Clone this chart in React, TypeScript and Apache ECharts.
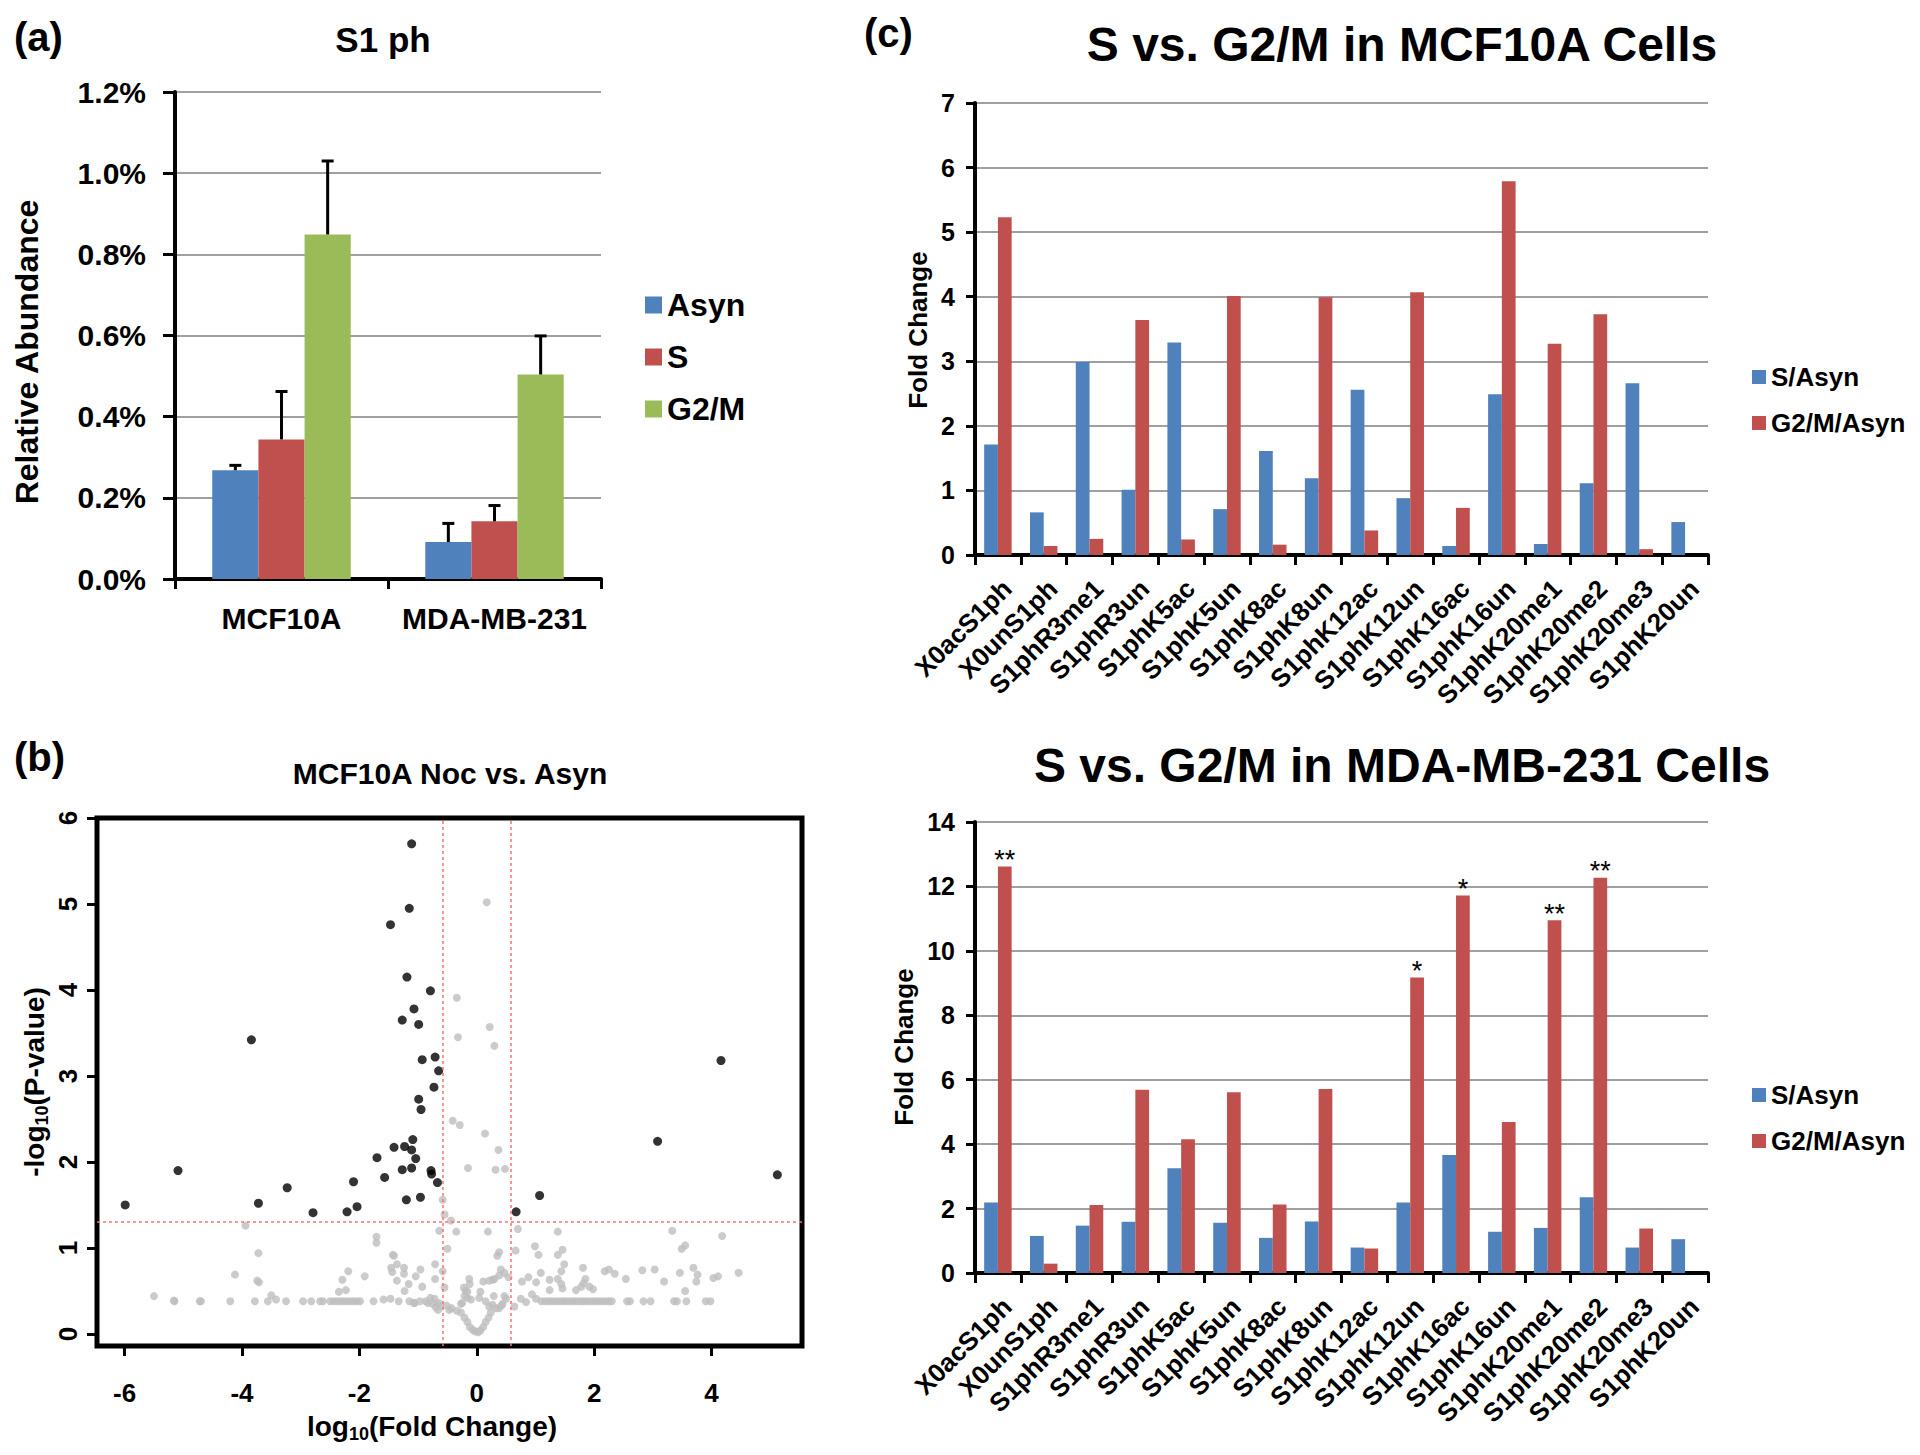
import React, { useEffect, useRef } from 'react';
import * as echarts from 'echarts';

const FONT = '"Liberation Sans", Arial, Helvetica, sans-serif';

// ---------- Panel (a) ----------
const cellLines = ['MCF10A', 'MDA-MB-231'];
const phaseNames = ['Asyn', 'S', 'G2/M'];
const asynVals = [0.268, 0.091];
const asynErrTop = [0.28, 0.137];
const sVals = [0.344, 0.142];
const sErrTop = [0.462, 0.181];
const g2mVals = [0.849, 0.504];
const g2mErrTop = [1.03, 0.599];
const yTicksA = [0, 0.2, 0.4, 0.6, 0.8, 1.0, 1.2];

// ---------- Panel (b) ----------
const blackPts = [
  [-1.11, 5.7], [-1.15, 4.95], [-1.47, 4.76], [-1.19, 4.15], [-0.79, 3.99], [-1.07, 3.78], [-1.27, 3.65],
  [-0.99, 3.6], [-3.84, 3.42], [-0.93, 3.19], [-0.71, 3.22], [-0.65, 3.06], [-0.73, 2.87], [-0.99, 2.73],
  [-0.95, 2.61], [4.16, 3.18], [3.08, 2.24], [-1.09, 2.26], [-1.41, 2.17], [-1.23, 2.18], [-1.11, 2.14],
  [-1.04, 2.04], [-1.7, 2.05], [-5.09, 1.9], [-1.27, 1.91], [-1.11, 1.93], [-0.78, 1.9], [-0.77, 1.86],
  [-1.57, 1.82], [-2.1, 1.77], [-0.67, 1.76], [-3.23, 1.7], [5.12, 1.85], [1.07, 1.61], [-0.96, 1.59],
  [-3.72, 1.52], [-1.2, 1.56], [-5.99, 1.5], [-2.04, 1.48], [-2.21, 1.42], [-2.79, 1.41], [0.67, 1.42],
];
const grayPts = [
  [0.17, 5.02], [-0.34, 3.91], [0.22, 3.57], [-0.32, 3.45], [0.3, 3.35], [-0.41, 2.48], [-0.29, 2.43],
  [0.14, 2.33], [0.37, 2.14], [-0.15, 1.93], [0.32, 1.91], [0.48, 1.92], [-0.58, 1.56], [-0.55, 1.39],
  [-0.44, 1.32],
  [-3.94, 1.26], [-0.64, 1.2], [-0.35, 1.19], [0.19, 1.19], [0.7, 1.22], [1.38, 1.19], [3.33, 1.2], [4.18, 1.14],
  [-1.71, 1.13], [-1.71, 1.06], [-0.5, 0.99], [0.99, 1.02], [1.05, 0.92], [0.66, 0.97], [0.38, 0.95],
  [0.35, 0.91], [1.38, 0.92], [1.46, 0.98], [3.49, 0.99], [3.55, 1.03],
  [-3.72, 0.94], [-1.41, 0.91], [-4.12, 0.69], [-3.71, 0.6], [-2.19, 0.73], [-2.29, 0.63], [-1.91, 0.67],
  [-1.36, 0.81], [-1.44, 0.72], [-1.24, 0.7], [-0.96, 0.75], [-1.04, 0.67], [-1.36, 0.62], [-1.16, 0.58],
  [-1.23, 0.5], [-0.93, 0.55], [-0.71, 0.81], [-0.71, 0.64], [-0.58, 0.73], [-0.55, 0.54], [-2.35, 0.49],
  [-2.23, 0.51], [-5.5, 0.44], [-5.16, 0.39],
  [1.49, 0.81], [1.44, 0.73], [1.09, 0.71], [1.81, 0.77], [2.18, 0.73], [2.25, 0.75], [2.35, 0.7],
  [2.54, 0.64], [2.82, 0.74], [3.03, 0.75], [3.19, 0.61], [3.46, 0.71], [3.69, 0.77], [3.76, 0.69],
  [3.74, 0.61], [4.03, 0.65], [4.11, 0.67], [4.46, 0.71],
  [0.41, 0.75], [0.47, 0.71], [0.38, 0.68], [0.3, 0.64], [0.21, 0.62], [0.54, 0.66], [0.77, 0.61],
  [0.88, 0.66], [1.01, 0.6], [1.24, 0.63], [1.38, 0.64], [1.44, 0.58], [1.46, 0.53], [1.24, 0.51],
  [1.69, 0.51], [1.78, 0.55], [1.85, 0.64], [1.82, 0.59], [1.92, 0.55], [1.98, 0.52], [3.55, 0.5],
  [-0.13, 0.64], [0.11, 0.61], [0.27, 0.63], [-0.22, 0.54], [-0.19, 0.5], [-0.16, 0.42], [-0.1, 0.4],
  [0.04, 0.42], [-0.27, 0.35], [0.21, 0.32], [0.27, 0.34], [0.47, 0.44], [0.5, 0.41], [0.38, 0.3],
  [0.44, 0.35], [0.64, 0.32], [0.75, 0.41], [0.84, 0.37], [0.94, 0.46], [1.01, 0.41],
  [-4.72, 0.38], [-4.2, 0.38], [-3.78, 0.38], [-3.56, 0.38], [-3.25, 0.38], [-2.96, 0.38], [-2.82, 0.38],
  [-2.67, 0.38], [-2.62, 0.38], [-2.5, 0.38], [-2.44, 0.38], [-2.38, 0.38], [-2.32, 0.38], [-2.27, 0.38],
  [-2.21, 0.38], [-2.15, 0.38], [-2.1, 0.38], [-2.04, 0.38], [-1.99, 0.38], [-1.76, 0.38], [-1.33, 0.38],
  [-0.87, 0.38],
  [1.1, 0.38], [1.16, 0.38], [1.22, 0.38], [1.27, 0.38], [1.33, 0.38], [1.39, 0.38], [1.45, 0.38],
  [1.5, 0.38], [1.56, 0.38], [1.62, 0.38], [1.67, 0.38], [1.73, 0.38], [1.79, 0.38], [1.84, 0.38],
  [1.9, 0.38], [1.96, 0.38], [2.02, 0.38], [2.07, 0.38], [2.13, 0.38], [2.19, 0.38], [2.25, 0.38],
  [2.3, 0.38], [2.56, 0.38], [2.61, 0.38], [2.84, 0.38], [2.96, 0.38], [3.36, 0.38], [3.41, 0.38],
  [3.57, 0.38], [3.9, 0.38], [3.98, 0.38],
  [-3.42, 0.4], [-3.5, 0.45], [-1.59, 0.4], [-1.47, 0.41], [-1.07, 0.36], [-0.75, 0.35], [-0.7, 0.31],
  [-0.66, 0.28], [-0.62, 0.33], [-0.47, 0.28],
  [-0.12, 0.08], [-0.07, 0.05], [-0.03, 0.03], [0.02, 0.02], [0.06, 0.04], [0.11, 0.08], [0.15, 0.14],
  [-0.16, 0.14], [-0.21, 0.19], [-0.27, 0.25], [-0.34, 0.27], [-0.43, 0.3], [0.2, 0.19], [0.24, 0.25],
  [0.33, 0.3], [0.42, 0.33], [-0.16, 0.49], [-0.12, 0.58], [-0.21, 0.44], [-0.25, 0.36], [0.15, 0.38],
  [0.06, 0.49], [0.29, 0.44],
  [-0.65, 0.36], [-0.72, 0.41], [-0.79, 0.42], [-0.52, 0.33], [-0.83, 0.36], [-0.97, 0.38], [-1.06, 0.36],
  [-1.15, 0.38], [-3.74, 0.62], [-5.15, 0.38], [-4.7, 0.38], [-1.43, 0.92], [-1.46, 0.77], [-1.24, 0.77],
];
const xTicksB = [-6, -4, -2, 0, 2, 4];
const yTicksB = [0, 1, 2, 3, 4, 5, 6];
const fcCut = [-0.585, 0.585];
const pCut = 1.301;

// ---------- Panel (c) ----------
const modCats = [
  'X0acS1ph', 'X0unS1ph', 'S1phR3me1', 'S1phR3un', 'S1phK5ac', 'S1phK5un', 'S1phK8ac', 'S1phK8un',
  'S1phK12ac', 'S1phK12un', 'S1phK16ac', 'S1phK16un', 'S1phK20me1', 'S1phK20me2', 'S1phK20me3', 'S1phK20un',
];
const mcfS = [1.71, 0.66, 2.99, 1.01, 3.29, 0.71, 1.61, 1.19, 2.56, 0.88, 0.14, 2.49, 0.17, 1.11, 2.66, 0.51];
const mcfG2M = [5.23, 0.14, 0.25, 3.64, 0.24, 4.01, 0.16, 3.99, 0.38, 4.07, 0.73, 5.79, 3.27, 3.73, 0.09, 0];
const mdaS = [2.19, 1.15, 1.47, 1.59, 3.25, 1.56, 1.09, 1.6, 0.79, 2.19, 3.66, 1.28, 1.4, 2.35, 0.79, 1.05];
const mdaG2M = [12.62, 0.29, 2.11, 5.69, 4.15, 5.61, 2.13, 5.71, 0.76, 9.17, 11.72, 4.69, 10.95, 12.27, 1.38, 0];
const mdaSig = ['**', '', '', '', '', '', '', '', '', '*', '*', '', '**', '**', '', ''];

const BLUE = '#4F81BD';
const RED = '#C0504D';
const GREEN = '#9BBB59';
const GRIDGRAY = '#A0A0A0';

function txt(text: string, x: number, y: number, size: number, opts: any = {}) {
  return {
    type: 'text',
    x,
    y,
    rotation: opts.rotation || 0,
    silent: true,
    style: {
      text,
      fontSize: size,
      fontWeight: opts.weight || 'bold',
      fontFamily: FONT,
      fill: '#000',
      align: opts.align || 'center',
      verticalAlign: 'middle',
      rich: opts.rich,
    },
  };
}

function subRich(size: number, sub: number) {
  return {
    n: { fontSize: size, fontWeight: 'bold', fontFamily: FONT, lineHeight: size + 6 },
    s: { fontSize: sub, fontWeight: 'bold', fontFamily: FONT, lineHeight: sub - 4, verticalAlign: 'bottom' },
  };
}

function buildOption() {
  const labelBase = { fontFamily: FONT, fontWeight: 'bold', color: '#000' };

  const errData: number[][] = [];
  const vals = [asynVals, sVals, g2mVals];
  const tops = [asynErrTop, sErrTop, g2mErrTop];
  for (let k = 0; k < 3; k++) {
    for (let i = 0; i < cellLines.length; i++) {
      errData.push([i, vals[k][i], tops[k][i], k]);
    }
  }

  const catAxisC = (gi: number) => ({
    type: 'category',
    gridIndex: gi,
    data: modCats,
    axisLine: { lineStyle: { color: '#000', width: 4 } },
    axisTick: { show: true, length: 10, lineStyle: { color: '#000', width: 3 } },
    axisLabel: {
      ...labelBase,
      interval: 0,
      hideOverlap: false,
      rotate: 45,
      fontSize: 26,
      margin: 20,
      verticalAlign: 'top',
    },
  });
  const valAxisC = (gi: number, max: number, interval: number) => ({
    type: 'value',
    gridIndex: gi,
    min: 0,
    max,
    interval,
    axisLine: { show: true, lineStyle: { color: '#000', width: 4 } },
    axisTick: { show: true, length: 9, lineStyle: { color: '#000', width: 3 } },
    splitLine: { show: true, lineStyle: { color: GRIDGRAY, width: 2 } },
    axisLabel: { ...labelBase, fontSize: 25, margin: 20 },
  });

  return {
    animation: false,
    backgroundColor: '#ffffff',
    grid: [
      { left: 175, top: 92, width: 426, height: 487, outerBoundsMode: 'none' },
      {
        left: 97, top: 818, width: 705, height: 528, outerBoundsMode: 'none',
        show: true, borderColor: '#000', borderWidth: 5, backgroundColor: 'transparent',
      },
      { left: 975, top: 103, width: 733, height: 452, outerBoundsMode: 'none' },
      { left: 975, top: 822, width: 733, height: 451, outerBoundsMode: 'none' },
    ],
    legend: [
      {
        data: phaseNames, orient: 'vertical', left: 640, top: 284, itemWidth: 17, itemHeight: 17,
        itemGap: 20, icon: 'rect', selectedMode: false,
        textStyle: { ...labelBase, fontSize: 32, lineHeight: 32 },
      },
      {
        data: ['S/Asyn', 'G2/M/Asyn'], orient: 'vertical', left: 1747, top: 359, itemWidth: 14, itemHeight: 14,
        itemGap: 20, icon: 'rect', selectedMode: false,
        textStyle: { ...labelBase, fontSize: 26, lineHeight: 26 },
      },
      {
        data: ['S/Asyn', 'G2/M/Asyn'], orient: 'vertical', left: 1747, top: 1077, itemWidth: 14, itemHeight: 14,
        itemGap: 20, icon: 'rect', selectedMode: false,
        textStyle: { ...labelBase, fontSize: 26, lineHeight: 26 },
      },
    ],
    xAxis: [
      {
        type: 'category', gridIndex: 0, data: cellLines,
        axisLine: { lineStyle: { color: '#000', width: 4 } },
        axisTick: { show: true, length: 10, lineStyle: { color: '#000', width: 3 } },
        axisLabel: { ...labelBase, fontSize: 30, margin: 24, interval: 0, hideOverlap: false },
      },
      {
        type: 'value', gridIndex: 1, min: -6.47, max: 5.54,
        axisLine: { show: false, onZero: false },
        splitLine: { show: false },
        axisTick: { show: true, length: 10, customValues: xTicksB, lineStyle: { color: '#000', width: 3 } },
        axisLabel: { ...labelBase, fontSize: 26, margin: 34, customValues: xTicksB },
      },
      catAxisC(2),
      catAxisC(3),
    ],
    yAxis: [
      {
        type: 'value', gridIndex: 0, min: 0, max: 1.2, interval: 0.2,
        axisLine: { show: true, lineStyle: { color: '#000', width: 4 } },
        axisTick: { show: true, length: 12, lineStyle: { color: '#000', width: 3 } },
        splitLine: { show: true, lineStyle: { color: GRIDGRAY, width: 2 } },
        axisLabel: {
          ...labelBase, fontSize: 30, margin: 29,
          formatter: (v: number) => v.toFixed(1) + '%',
          customValues: yTicksA,
        },
      },
      {
        type: 'value', gridIndex: 1, min: -0.14, max: 6,
        axisLine: { show: false, onZero: false },
        splitLine: { show: false },
        axisTick: { show: true, length: 10, customValues: yTicksB, lineStyle: { color: '#000', width: 3 } },
        axisLabel: { ...labelBase, fontSize: 26, margin: 16, rotate: 90, customValues: yTicksB },
      },
      valAxisC(2, 7, 1),
      valAxisC(3, 14, 2),
    ],
    series: [
      {
        name: 'Asyn', type: 'bar', xAxisIndex: 0, yAxisIndex: 0, data: asynVals,
        barGap: '0%', barCategoryGap: '35%', itemStyle: { color: BLUE },
      },
      {
        name: 'S', type: 'bar', xAxisIndex: 0, yAxisIndex: 0, data: sVals,
        barGap: '0%', barCategoryGap: '35%', itemStyle: { color: RED },
      },
      {
        name: 'G2/M', type: 'bar', xAxisIndex: 0, yAxisIndex: 0, data: g2mVals,
        barGap: '0%', barCategoryGap: '35%', itemStyle: { color: GREEN },
      },
      {
        name: 'err', type: 'custom', xAxisIndex: 0, yAxisIndex: 0, z: 5, silent: true,
        data: errData,
        encode: { x: 0, y: 1 },
        renderItem: (params: any, api: any) => {
          const cat = api.value(0);
          const v = api.value(1);
          const top = api.value(2);
          const k = api.value(3);
          const base = api.coord([cat, v]);
          const hi = api.coord([cat, top]);
          const cw = api.size([1, 0])[0];
          const bw = (cw * 0.65) / 3;
          const x = base[0] + (k - 1) * bw;
          return {
            type: 'group',
            children: [
              { type: 'line', shape: { x1: x, y1: base[1], x2: x, y2: hi[1] }, style: { stroke: '#000', lineWidth: 3 } },
              { type: 'line', shape: { x1: x - 6, y1: hi[1], x2: x + 6, y2: hi[1] }, style: { stroke: '#000', lineWidth: 3 } },
            ],
          };
        },
      },
      {
        name: 'ns', type: 'scatter', xAxisIndex: 1, yAxisIndex: 1, data: grayPts,
        symbolSize: 8, itemStyle: { color: '#BEBEBE' }, z: 2, silent: true,
        markLine: {
          silent: true, symbol: ['none', 'none'], label: { show: false },
          lineStyle: { color: '#FF7070', type: [3, 3], width: 1.5 },
          data: [{ xAxis: fcCut[0] }, { xAxis: fcCut[1] }, { yAxis: pCut }],
        },
      },
      {
        name: 'sig', type: 'scatter', xAxisIndex: 1, yAxisIndex: 1, data: blackPts,
        symbolSize: 9, itemStyle: { color: '#000' }, z: 3, silent: true,
      },
      {
        name: 'S/Asyn', type: 'bar', xAxisIndex: 2, yAxisIndex: 2, data: mcfS,
        barGap: '0%', barCategoryGap: '40%', itemStyle: { color: BLUE },
      },
      {
        name: 'G2/M/Asyn', type: 'bar', xAxisIndex: 2, yAxisIndex: 2, data: mcfG2M,
        barGap: '0%', barCategoryGap: '40%', itemStyle: { color: RED },
      },
      {
        name: 'S/Asyn', type: 'bar', xAxisIndex: 3, yAxisIndex: 3, data: mdaS,
        barGap: '0%', barCategoryGap: '40%', itemStyle: { color: BLUE },
      },
      {
        name: 'G2/M/Asyn', type: 'bar', xAxisIndex: 3, yAxisIndex: 3,
        barGap: '0%', barCategoryGap: '40%', itemStyle: { color: RED },
        data: mdaG2M.map((v, i) =>
          mdaSig[i]
            ? { value: v, label: { show: true, position: 'top', distance: -7, formatter: mdaSig[i], fontSize: 27, fontFamily: FONT, color: '#000' } }
            : v,
        ),
      },
    ],
    graphic: [
      txt('(a)', 14, 37, 40, { align: 'left' }),
      txt('S1 ph', 383, 39, 35),
      txt('Relative Abundance', 27, 352, 32, { rotation: Math.PI / 2 }),
      txt('(b)', 14, 757, 40, { align: 'left' }),
      txt('MCF10A Noc vs. Asyn', 450, 773, 30),
      txt('{n|-log}{s|10}{n|(P-value)}', 34, 1082, 28, { rotation: Math.PI / 2, rich: subRich(28, 18) }),
      txt('{n|log}{s|10}{n|(Fold Change)}', 432, 1426, 28, { rich: subRich(28, 18) }),
      txt('(c)', 864, 33, 40, { align: 'left' }),
      txt('S vs. G2/M in MCF10A Cells', 1402, 44, 48),
      txt('S vs. G2/M in MDA-MB-231 Cells', 1402, 765, 48),
      txt('Fold Change', 918, 330, 26, { rotation: Math.PI / 2 }),
      txt('Fold Change', 904, 1047, 26, { rotation: Math.PI / 2 }),
    ],
  };
}

export default function App() {
  const ref = useRef<HTMLDivElement>(null);
  useEffect(() => {
    if (!ref.current) return;
    const chart = echarts.init(ref.current, undefined, { renderer: 'svg', width: 1920, height: 1455 });
    chart.setOption(buildOption() as any);
    return () => chart.dispose();
  }, []);
  return (
    <div
      ref={ref}
      style={{ position: 'absolute', left: 0, top: 0, width: 1920, height: 1455, background: '#ffffff' }}
    />
  );
}
